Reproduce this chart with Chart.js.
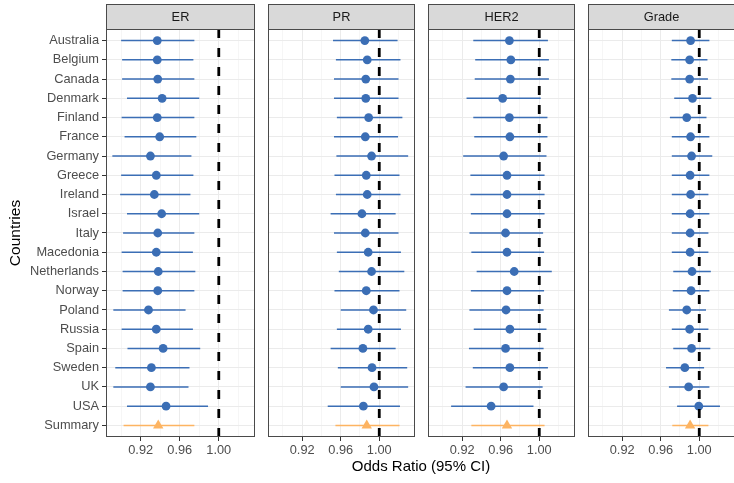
<!DOCTYPE html>
<html><head><meta charset="utf-8">
<script src="https://cdn.jsdelivr.net/npm/chart.js@4"></script>
<style>
html,body{margin:0;padding:0;background:#fff;overflow:hidden;width:734px;height:483px;}
#wrap{position:relative;width:734px;height:483px;overflow:hidden;background:#fff;}
canvas{position:absolute;top:0;}
#xtitle{position:absolute;left:0;width:842px;top:457px;text-align:center;font:15px "Liberation Sans",Arial,Helvetica,sans-serif;color:#000;white-space:nowrap;}
</style></head><body>
<div id="wrap">
<canvas id="c0" width="261" height="483" style="left:0px"></canvas>
<canvas id="c1" width="159" height="483" style="left:262px"></canvas>
<canvas id="c2" width="159" height="483" style="left:422px"></canvas>
<canvas id="c3" width="159" height="483" style="left:582px"></canvas>
<div id="xtitle">Odds Ratio (95% CI)</div>
</div>
<script>
const countries = ["Australia","Belgium","Canada","Denmark","Finland","France","Germany","Greece","Ireland","Israel","Italy","Macedonia","Netherlands","Norway","Poland","Russia","Spain","Sweden","UK","USA","Summary"];
const panels = ["ER","PR","HER2","Grade"];

const erOR = [0.937,0.937,0.9375,0.942,0.937,0.9395,0.930,0.936,0.934,0.9415,0.9375,0.936,0.938,0.9375,0.928,0.936,0.943,0.931,0.930,0.946,0.938];
const erLo = [0.900,0.901,0.901,0.906,0.9005,0.9035,0.891,0.900,0.899,0.906,0.902,0.9005,0.9015,0.9015,0.892,0.9005,0.9065,0.894,0.892,0.906,0.9025];
const erHi = [0.975,0.974,0.975,0.980,0.975,0.977,0.972,0.974,0.971,0.980,0.975,0.9735,0.976,0.975,0.966,0.9735,0.981,0.970,0.969,0.989,0.975];

const prOR = [0.985,0.9875,0.986,0.986,0.989,0.9855,0.992,0.9865,0.9875,0.982,0.9855,0.9885,0.992,0.9865,0.994,0.9885,0.983,0.9925,0.9945,0.9835,0.987];
const prLo = [0.952,0.955,0.953,0.953,0.956,0.953,0.9555,0.9535,0.955,0.9495,0.953,0.956,0.958,0.9535,0.960,0.956,0.9495,0.957,0.960,0.9465,0.9545];
const prHi = [1.019,1.022,1.020,1.020,1.024,1.0195,1.030,1.021,1.022,1.017,1.020,1.0225,1.026,1.021,1.028,1.0225,1.017,1.029,1.030,1.0215,1.021];

const her2OR = [0.969,0.9705,0.970,0.962,0.969,0.9695,0.963,0.9665,0.9665,0.9665,0.965,0.9665,0.974,0.9665,0.9655,0.9695,0.965,0.9695,0.963,0.950,0.9665];
const her2Lo = [0.9315,0.9335,0.933,0.9245,0.9315,0.9325,0.921,0.9285,0.9285,0.929,0.9275,0.9295,0.935,0.929,0.9275,0.932,0.927,0.931,0.9235,0.9085,0.9295];
const her2Hi = [1.009,1.010,1.010,1.0015,1.0085,1.0085,1.0075,1.0055,1.0055,1.0055,1.004,1.005,1.013,1.005,1.0045,1.0075,1.0045,1.009,1.0035,0.994,1.0055];

const gradeOR = [0.991,0.990,0.990,0.993,0.987,0.991,0.992,0.9905,0.991,0.9905,0.9905,0.9905,0.9925,0.9915,0.987,0.990,0.992,0.985,0.989,0.9995,0.9905];
const gradeLo = [0.9715,0.971,0.971,0.974,0.9695,0.9715,0.9715,0.9715,0.9715,0.9715,0.9715,0.9715,0.973,0.9725,0.9685,0.9715,0.973,0.9655,0.9685,0.977,0.972];
const gradeHi = [1.0105,1.0085,1.009,1.0125,1.0075,1.0105,1.0135,1.0105,1.0095,1.0105,1.0095,1.0095,1.012,1.0105,1.007,1.0095,1.0115,1.005,1.0105,1.0215,1.0095];

const xGridValues = [0.90,0.92,0.94,0.96,0.98,1.00,1.02];
const xMajorLabels = ["0.92","0.96","1.00"];
const refLine = 1.00;

const ORs = [erOR, prOR, her2OR, gradeOR];
const LOs = [erLo, prLo, her2Lo, gradeLo];
const HIs = [erHi, prHi, her2Hi, gradeHi];

const FONT = "'Liberation Sans', Arial, Helvetica, sans-serif";
const BLUE = '#3B6EB5';
const ORANGE = '#FDB462';
Chart.defaults.font.family = FONT;

function isMajor(v){ return xMajorLabels.includes(Number(v).toFixed(2)); }

const panelPlugin = {
  id: 'panelDeco',
  afterDraw(chart, args, opts) {
    const {ctx, chartArea: a} = chart;
    ctx.save();
    ctx.fillStyle = '#D9D9D9';
    ctx.fillRect(a.left, 4, a.right - a.left, a.top - 4);
    ctx.strokeStyle = '#4a4a4a';
    ctx.lineWidth = 1;
    ctx.strokeRect(a.left + 0.5, 4.5, a.right - a.left - 1, a.top - 4);
    ctx.strokeRect(a.left + 0.5, a.top + 0.5, a.right - a.left - 1, a.bottom - a.top - 1);
    ctx.fillStyle = '#1A1A1A';
    ctx.font = '12.8px ' + FONT;
    ctx.textAlign = 'center';
    ctx.textBaseline = 'middle';
    ctx.fillText(opts.label, (a.left + a.right) / 2, (4 + a.top) / 2 + 1);
    ctx.restore();
  }
};

function makeChart(k) {
  const first = k === 0;
  const or = ORs[k], lo = LOs[k], hi = HIs[k];
  const s = countries.length - 1;
  const ciC = [], ptC = [];
  for (let i = 0; i < s; i++) {
    ciC.push({x: lo[i], y: i}, {x: hi[i], y: i}, {x: null, y: null});
    ptC.push({x: or[i], y: i});
  }
  const ciS = [{x: lo[s], y: s}, {x: hi[s], y: s}];
  const ptS = [{x: or[s], y: s}];
  const vline = [{x: refLine, y: -0.6}, {x: refLine, y: s + 0.6}];

  new Chart(document.getElementById('c' + k), {
    type: 'scatter',
    data: {
      datasets: [
        {data: vline, showLine: true, borderColor: '#000', borderWidth: 2.8, borderDash: [9, 10], borderCapStyle: 'butt', pointRadius: 0},
        {data: ptS, pointStyle: 'triangle', pointRadius: 6, backgroundColor: ORANGE, borderWidth: 0, pointBorderWidth: 0},
        {data: ptC, pointStyle: 'circle', pointRadius: 4.4, backgroundColor: BLUE, borderWidth: 0, pointBorderWidth: 0},
        {data: ciS, showLine: true, borderColor: ORANGE, borderWidth: 1.6, pointRadius: 0},
        {data: ciC, showLine: true, spanGaps: false, borderColor: BLUE, borderWidth: 1.6, pointRadius: 0}
      ]
    },
    options: {
      responsive: false,
      animation: false,
      events: [],
      layout: {padding: {left: first ? 0 : 4, right: 4, top: 29, bottom: 0}},
      plugins: {legend: {display: false}, tooltip: {enabled: false}, panelDeco: {label: panels[k]}},
      scales: {
        x: {
          type: 'linear', min: 0.8845, max: 1.0371,
          afterBuildTicks: sc => { sc.ticks = xGridValues.map(v => ({value: v})); },
          afterFit: sc => { sc.height = 46; },
          border: {display: false},
          grid: {
            color: ctx => isMajor(ctx.tick.value) ? '#EBEBEB' : '#F0F0F0',
            lineWidth: ctx => isMajor(ctx.tick.value) ? 1 : 0.6,
            drawTicks: true, tickLength: 4,
            tickColor: ctx => isMajor(ctx.tick.value) ? '#333333' : 'rgba(0,0,0,0)',
            tickWidth: 1
          },
          ticks: {
            autoSkip: false, maxRotation: 0, padding: 2,
            color: '#4D4D4D', font: {size: 12.8},
            callback: v => isMajor(v) ? Number(v).toFixed(2) : ''
          }
        },
        y: {
          type: 'linear', reverse: true, min: -0.6, max: s + 0.6,
          afterBuildTicks: sc => { sc.ticks = countries.map((c, i) => ({value: i})); },
          afterFit: sc => { sc.width = first ? 106 : 0; },
          border: {display: false},
          grid: {color: '#EBEBEB', lineWidth: 1, drawTicks: first, tickLength: 4, tickColor: '#333333'},
          ticks: {
            display: first, autoSkip: false, padding: 3,
            color: '#4D4D4D', font: {size: 12.8},
            callback: v => countries[v]
          },
          title: {display: first, text: 'Countries', color: '#000', font: {size: 15.5}, padding: {top: 6, bottom: 0}}
        }
      }
    },
    plugins: [panelPlugin]
  });
}
for (let k = 0; k < panels.length; k++) makeChart(k);
</script>
</body></html>
